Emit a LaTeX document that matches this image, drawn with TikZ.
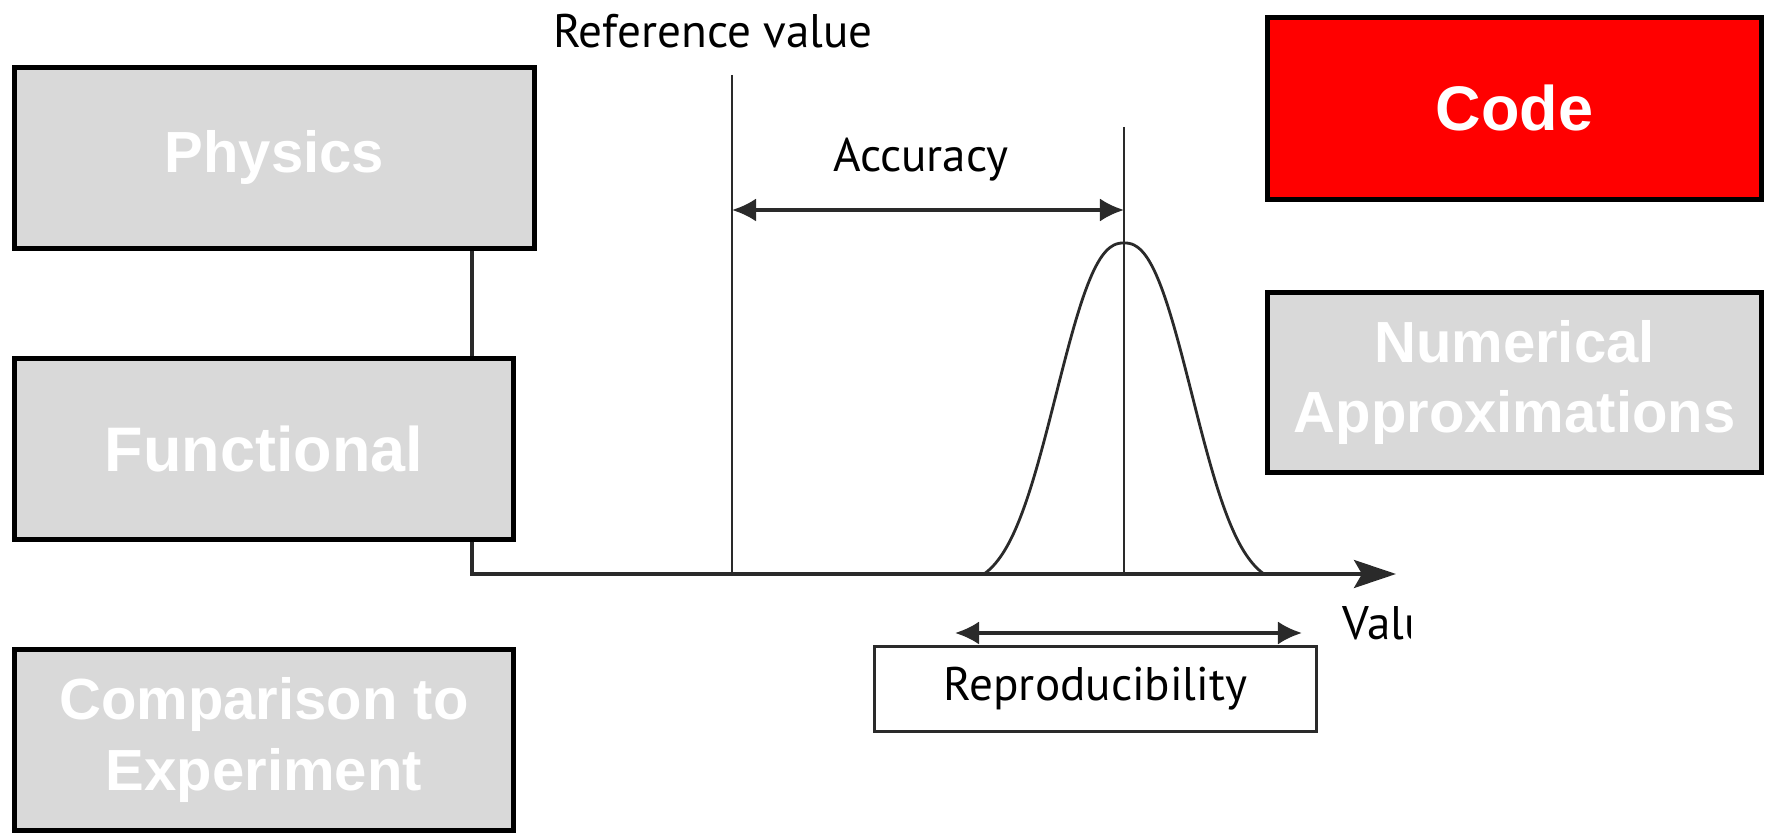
\documentclass[tikz,border=0pt]{standalone}
\usepackage{fontspec}
\setmainfont{Liberation Sans}
\newfontfamily\diagfont{PT Sans}
\usetikzlibrary{arrows.meta}
\definecolor{boxgray}{HTML}{D9D9D9}
\definecolor{codered}{HTML}{FF0000}
\definecolor{linegray}{HTML}{2A2A2A}
\begin{document}
\begin{tikzpicture}[x=0.01cm, y=-0.01cm,
  box/.style={draw=black, line width=1.4pt, fill=boxgray, text=white,
    font=\bfseries\fontsize{16.5}{20}\selectfont, align=center, inner sep=0pt},
  bigtext/.style={font=\bfseries\fontsize{17.9}{21}\selectfont},
  diag/.style={text=black, font=\diagfont\fontsize{13.4}{16}\selectfont, inner sep=0pt},
  thinline/.style={draw=linegray, line width=0.8pt},
  axisline/.style={draw=linegray, line width=1.05pt},
  dimarrow/.style={draw=linegray, line width=0.9pt, {Latex[length=0.24cm,width=0.23cm]}-{Latex[length=0.24cm,width=0.23cm]}}
]
\useasboundingbox (0,0) rectangle (1768,837);

% named coordinates
\coordinate (corner) at (472,574);
\coordinate (axisend) at (1396,574);
\coordinate (reftop) at (732,75);
\coordinate (refbot) at (732,574);
\coordinate (acctop) at (1124,127);
\coordinate (accbot) at (1124,574);
\coordinate (accL) at (732,210);
\coordinate (accR) at (1124,210);
\coordinate (repL) at (955,633);
\coordinate (repR) at (1302,633);

% reference and measured value lines
\draw[thinline] (reftop) -- (refbot);
\draw[thinline] (acctop) -- (accbot);

% distribution curve
\draw[thinline] plot[domain=-140:140, samples=141, smooth]
  ({1124+\x}, {574-331*(exp(-pow(abs(\x)/85.3+0.001,2.4))-0.0375)/0.9625});

% accuracy arrow
\draw[dimarrow] (accL) -- (accR);

% boxes (Physics first so connector can be drawn from it)
\node[box, minimum width=5.20cm, minimum height=1.81cm] (phys) at (274.5,158) {Physics};

% connector / value axis
\draw[axisline, -{Stealth[length=0.42cm,width=0.28cm,inset=0.08cm]}]
  (phys.south -| corner) -- (corner) -- (axisend);

\node[box, bigtext, minimum width=4.99cm, minimum height=1.81cm] (func) at (264,449) {Functional};
\node[box, minimum width=4.99cm, minimum height=1.81cm] (comp) at (264,740) {Comparison to\\Experiment};
\node[box, bigtext, fill=codered, minimum width=4.94cm, minimum height=1.82cm] (code) at (1514.5,108.5) {Code};
\node[box, minimum width=4.94cm, minimum height=1.80cm] (num) at (1514.5,382.5) {Numerical\\Approximations};

% texts
\node[diag, anchor=base] (refval) at (713,48) {Reference value};
\node[diag, anchor=base] (acc) at (921,172) {Accuracy};

% reproducibility
\node[diag, draw=linegray, line width=0.9pt, fill=white, minimum width=4.42cm, minimum height=0.85cm] (repro) at (1095.5,689) {Reproducibility};
\draw[dimarrow] (repL) -- (repR);

% clipped axis label
\begin{scope}
  \clip (1330,590) rectangle (1410,660);
  \node[diag, anchor=base west] (val) at (1342,640) {Value};
\end{scope}
\end{tikzpicture}
\end{document}
